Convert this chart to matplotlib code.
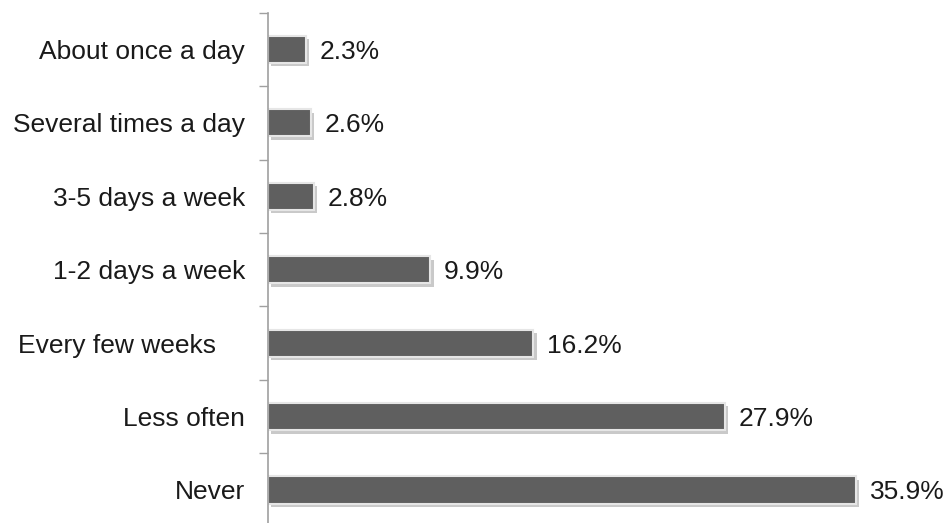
import numpy as np
import matplotlib.pyplot as plt
import matplotlib.patheffects as pe

plt.rcParams['font.family'] = ['Liberation Sans', 'DejaVu Sans']

# how often, top to bottom
categories = ['About once a day', 'Several times a day', '3-5 days a week',
              '1-2 days a week', 'Every few weeks    ', 'Less often', 'Never']
shares = [2.3, 2.6, 2.8, 9.9, 16.2, 27.9, 35.9]

fig = plt.figure(figsize=(9.5, 5.23), dpi=100)
ax = fig.add_axes([268 / 950, -3.7 / 523, 655 / 950, 514 / 523])

y = np.arange(len(categories))[::-1]
bars = ax.barh(y, shares, height=0.37, color='#5f5f5f', edgecolor='#e6e6e6',
               linewidth=1.5)
for b in bars:
    b.set_path_effects([pe.SimplePatchShadow(offset=(2.5, -2.5),
                                             shadow_rgbFace='#888888', alpha=0.45),
                        pe.Normal()])

for yi, v in zip(y, shares):
    ax.annotate(f'{v:.1f}%', (v, yi), xytext=(14, 0), textcoords='offset pixels',
                va='center_baseline', ha='left', fontsize=19, color='#1a1a1a')

ax.set_xlim(0, 40)
ax.set_ylim(-0.5, len(categories) - 0.5)
ax.set_yticks(y)
ax.set_yticklabels(categories, fontsize=19, color='#1a1a1a')
ax.set_yticks(np.arange(len(categories) + 1) - 0.5, minor=True)
ax.tick_params(axis='y', which='major', length=0, pad=23 * 72 / 100)
ax.tick_params(axis='y', which='minor', length=6.5, width=1, color='#a0a0a0')
ax.set_xticks([])

for side in ['top', 'right', 'bottom']:
    ax.spines[side].set_visible(False)
ax.spines['left'].set_color('#a0a0a0')
ax.spines['left'].set_linewidth(1.2)

fig.savefig('out.png', dpi=100)
